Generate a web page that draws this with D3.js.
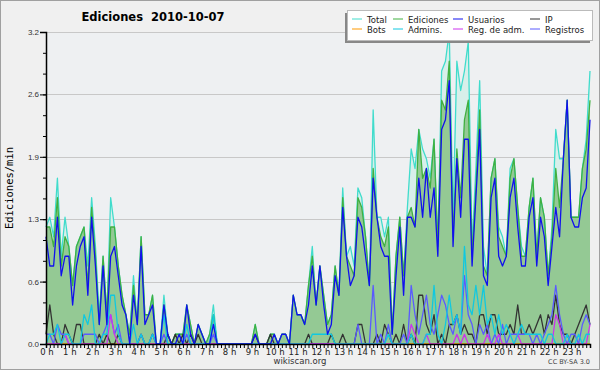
<!DOCTYPE html>
<html>
<head>
<meta charset="utf-8">
<script src="https://cdn.jsdelivr.net/npm/d3@7"></script>
<style>
  body { margin: 0; background: #f0f0f0; }
  svg { display: block; font-family: "DejaVu Sans", sans-serif; }
</style>
</head>
<body>
<div id="chart"></div>
<script>
const width = 600, height = 370;
const margin = { top: 32, right: 10, bottom: 26, left: 46 };

// 10-minute buckets (0..143), edits per minute
const total = [1.2,1.3,1.1,1.7,0.9,1.3,1.0,0.6,1.0,1.1,1.2,0.8,1.5,1.0,0.3,0.9,0.3,1.5,1.2,0.8,0.5,0.3,0.1,0.7,0.2,1.1,0.3,0.3,0.5,0,
  0,0.5,0.1,0,0.1,0.1,0.1,0.4,0.2,0,0.2,0.1,0,0.1,0.4,0,0,0,0,0,0,0,0,0,0,0.2,0,0,0,0.1,
  0.1,0,0.1,0.1,0,0.5,0.3,0.3,0.2,0.6,1.0,0.4,0.8,0.5,0.2,0.3,0.8,0.5,1.6,0.9,1.0,0.8,1.6,1.5,1.1,0.6,2.4,1.3,1.3,1.1,
  1.3,0.1,0.9,1.3,0.7,1.4,2.0,1.8,2.2,2.0,1.9,1.7,2.1,1.0,2.8,2.9,3.2,1.3,2.9,2.6,2.8,3.1,1.0,1.8,2.7,1.0,0.7,1.7,1.9,1.2,
  1.1,0.9,1.8,1.9,1.4,1.0,0.9,1.4,1.7,0.9,1.5,1.3,0.7,1.2,2.2,1.9,1.9,2.5,1.3,1.3,1.3,1.8,2.1,2.8];
const ediciones = [1.2,1.2,1.0,1.5,0.8,1.1,1.0,0.6,1.0,1.1,1.2,0.6,1.4,0.9,0.2,0.9,0.3,1.2,1.2,0.8,0.5,0.3,0.1,0.6,0.2,1.1,0.3,0.3,0.5,0,
  0,0.4,0.1,0,0.1,0.1,0.1,0.4,0.2,0,0.2,0.1,0,0.1,0.3,0,0,0,0,0,0,0,0,0,0,0.2,0,0,0,0.1,
  0.1,0,0.1,0.1,0,0.5,0.3,0.3,0.2,0.6,0.9,0.4,0.8,0.5,0.2,0.3,0.8,0.5,1.5,0.9,0.8,0.7,1.5,1.4,1.1,0.6,1.8,1.3,1.1,1.0,
  1.2,0.1,0.9,1.3,0.7,1.3,1.4,1.2,2.2,1.7,1.8,1.6,2.1,1.0,2.5,2.4,2.9,1.1,2.0,1.5,2.3,2.5,0.9,1.6,2.4,0.8,0.7,1.7,1.9,1.1,
  1.0,0.9,1.7,1.9,1.4,0.9,0.9,1.4,1.7,0.9,1.5,1.3,0.7,1.1,1.8,1.4,1.9,2.5,1.3,1.3,1.3,1.8,2.0,2.5];
const usuarios = [1.1,0.8,0.8,1.3,0.7,0.9,0.9,0.4,0.8,1.0,1.1,0.5,1.3,0.8,0.2,0.8,0.2,0.9,1.0,0.7,0.4,0.3,0,0.5,0.2,1.0,0.2,0.3,0.4,0,
  0,0.4,0.1,0,0,0.1,0,0.4,0.1,0,0.2,0.1,0,0,0.2,0,0,0,0,0,0,0,0,0,0,0.1,0,0,0,0,
  0.1,0,0.1,0.1,0,0.5,0.3,0.3,0.2,0.4,0.8,0.4,0.8,0.4,0.1,0.2,0.7,0.5,1.4,0.9,0.6,0.7,1.3,1.2,0.9,0.6,1.7,1.3,1.0,0.9,
  0.9,0.1,0.7,1.2,0.5,1.3,1.3,1.2,1.7,1.3,1.8,1.3,1.6,0.9,2.2,2.3,2.7,1.0,1.9,1.3,2.1,2.1,0.8,1.5,2.2,0.7,0.6,1.5,1.7,0.9,
  0.8,0.9,1.5,1.7,1.2,0.8,0.8,1.3,1.5,0.8,1.3,1.1,0.6,1.0,1.4,1.1,1.9,2.5,1.3,1.2,1.2,1.5,1.6,2.3];
const ip = [0.1,0.4,0.1,0,0,0.2,0.1,0,0.2,0.2,0,0,0,0,0.1,0,0.1,0,0,0.1,0,0,0,0,0,0.1,0,0,0.1,0,
  0,0,0.1,0,0.1,0,0.1,0,0.1,0,0.1,0,0,0,0,0,0,0,0,0,0,0,0,0,0,0.1,0,0,0,0.1,
  0,0,0,0,0,0,0,0,0,0.1,0,0,0,0,0,0.1,0,0,0.1,0,0,0,0.2,0.2,0,0,0,0.1,0,0.2,
  0.1,0,0.1,0,0.2,0,0.1,0,0.5,0.5,0.2,0.1,0.3,0,0.1,0,0.2,0.2,0.3,0.1,0.2,0.1,0.1,0,0.3,0.3,0.1,0.3,0.3,0.1,
  0.1,0.1,0.2,0.1,0.4,0.1,0.1,0.2,0.1,0.2,0.3,0.1,0.3,0.2,0.5,0.2,0.1,0.1,0,0.1,0.2,0.3,0.4,0.2];
const bots = new Array(144).fill(0);
const admins = [0,0.1,0.1,0.2,0,0.1,0.1,0,0,0,0.3,0.2,0.4,0,0,0.1,0.1,0.5,0.5,0.1,0,0,0,0.2,0,0.1,0,0,0.1,0,
  0,0.3,0,0,0,0,0,0.2,0,0,0,0,0,0,0.3,0,0,0,0,0,0,0,0,0,0,0,0,0,0,0,
  0,0,0,0,0,0,0,0,0,0,0.1,0.1,0.1,0.1,0.1,0.1,0,0,0,0,0,0,0,0,0,0,0,0,0,0,
  0.1,0,0,0,0,0,0.1,0,0,0,0.1,0.1,0.6,0.1,0,0.2,0.5,0.2,0.3,0.1,1.0,0.4,0.3,0.6,0.3,0.6,0.2,0.3,0.1,0.3,
  0.1,0.2,0.1,0,0.1,0.2,0.1,0.1,0.1,0.1,0.1,0,0.1,0.1,0,0,0,0.1,0,0,0.1,0,0.1,0.1];
const registros = [0.1,0.1,0,0.2,0.1,0.1,0,0,0,0,0.1,0.1,0.1,0.1,0,0.1,0.2,0.3,0.1,0.2,0,0,0,0,0,0.1,0,0,0.1,0,
  0,0.1,0,0,0,0,0,0.1,0,0,0,0,0,0,0.1,0,0,0,0,0,0,0,0,0,0,0,0,0,0,0,
  0,0,0,0,0,0,0,0,0,0,0,0,0,0,0,0,0,0,0,0,0,0,0.2,0,0,0,0.6,0,0.1,0,
  0.2,0,0,0,0.1,0,0.6,0.3,0.1,0.3,0.5,0.2,0.1,0.3,0.5,0.4,0.2,0.1,0.3,0.1,0.7,0.3,0.2,0,0.2,0.1,0.2,0,0.1,0,
  0.2,0,0.1,0.1,0.1,0.1,0.1,0.1,0,0.1,0,0.1,0.2,0.3,0.6,0.3,0.1,0,0.1,0.1,0,0.2,0.3,0.2];
const regAdm = [0,0,0,0,0,0.1,0,0,0,0,0,0,0,0,0,0,0,0.3,0.1,0,0,0,0,0,0,0,0,0,0,0,
  0,0,0,0,0,0,0,0,0,0,0,0,0,0,0,0,0,0,0,0,0,0,0,0,0,0,0,0,0,0,
  0,0,0,0,0,0,0,0,0,0,0,0,0,0,0,0,0,0,0,0,0,0,0,0,0,0,0,0,0,0,
  0,0,0,0,0,0,0.2,0.1,0,0,0.1,0,0,0,0,0,0,0,0.1,0,0.1,0,0,0,0,0,0.1,0,0,0.1,
  0,0,0,0,0.1,0,0,0,0,0,0,0,0,0,0.3,0.2,0,0,0,0,0,0,0,0.2];

const yMajor = [0, 0.64, 1.28, 1.92, 2.56, 3.2];
const hours = d3.range(24);

const legendItems = [
  { name: "Total", color: "#40dccc" },
  { name: "Ediciones", color: "#40b040" },
  { name: "Usuarios", color: "#1010ee" },
  { name: "IP", color: "#333333" },
  { name: "Bots", color: "#ff9900" },
  { name: "Admins.", color: "#10c8e0" },
  { name: "Reg. de adm.", color: "#cc33ee" },
  { name: "Registros", color: "#5a5aff" }
];
const color = {};
legendItems.forEach((d) => (color[d.name] = d.color));

const svg = d3
  .select("#chart")
  .append("svg")
  .attr("width", width)
  .attr("height", height);

svg.append("rect")
  .attr("x", 0.5).attr("y", 0.5)
  .attr("width", width - 1).attr("height", height - 1)
  .attr("fill", "#f0f0f0")
  .attr("stroke", "#a0a0a0");

const xScale = d3.scaleLinear().domain([0, 143]).range([margin.left, width - margin.right]);
const yScale = d3.scaleLinear().domain([0, 3.2]).range([height - margin.bottom, margin.top]);

// plot background
svg.append("rect")
  .attr("x", xScale(0)).attr("y", yScale(3.2))
  .attr("width", xScale(143) - xScale(0))
  .attr("height", yScale(0) - yScale(3.2))
  .attr("fill", "#eef0f2");

// grid
svg.selectAll(".grid")
  .data(yMajor.slice(1))
  .enter()
  .append("line")
  .attr("class", "grid")
  .attr("x1", xScale(0)).attr("x2", xScale(143))
  .attr("y1", (d) => Math.round(yScale(d)) + 0.5)
  .attr("y2", (d) => Math.round(yScale(d)) + 0.5)
  .attr("stroke", "#c8c8c8");

const line = (arr) => d3.line().x((d, i) => xScale(i)).y((d) => yScale(d))(arr);
const area = (arr) => d3.area().x((d, i) => xScale(i)).y0(yScale(0)).y1((d) => yScale(d))(arr);

// areas
svg.append("path").attr("d", area(total)).attr("fill", "#d8efea");
svg.append("path").attr("d", area(ediciones)).attr("fill", "#94c994");

const series = [
  { name: "Total", values: total },
  { name: "Ediciones", values: ediciones },
  { name: "Bots", values: bots },
  { name: "IP", values: ip },
  { name: "Registros", values: registros },
  { name: "Reg. de adm.", values: regAdm },
  { name: "Admins.", values: admins },
  { name: "Usuarios", values: usuarios }
];

svg.selectAll(".series")
  .data(series)
  .enter()
  .append("path")
  .attr("class", "series")
  .attr("d", (d) => line(d.values))
  .attr("fill", "none")
  .attr("stroke", (d) => color[d.name])
  .attr("stroke-width", 1.3)
  .attr("stroke-linejoin", "round");

// y axis
const yAxisMinor = svg.append("g")
  .attr("transform", `translate(${margin.left},0)`)
  .call(d3.axisLeft(yScale).tickValues(d3.range(16).map((k) => (3.2 * k) / 15)).tickSize(3).tickFormat(""));
yAxisMinor.select(".domain").remove();

const yAxis = svg.append("g")
  .attr("transform", `translate(${margin.left},0)`)
  .call(d3.axisLeft(yScale).tickValues(yMajor).tickSize(6).tickFormat(d3.format(".1f")).tickPadding(1));
yAxis.select(".domain").attr("stroke-width", 1.5);
yAxis.selectAll("text").attr("font-size", 8).attr("fill", "#333");

// x axis
const xAxis = svg.append("g")
  .attr("transform", `translate(0,${height - margin.bottom})`)
  .call(d3.axisBottom(xScale).tickValues(d3.range(144)).tickSize(4).tickFormat(""));
xAxis.select(".domain").attr("stroke-width", 1.5);

svg.selectAll(".hour")
  .data(hours)
  .enter()
  .append("text")
  .attr("class", "hour")
  .attr("x", (d) => xScale(d * 6) + 1)
  .attr("y", 355)
  .attr("text-anchor", "middle")
  .attr("font-size", 8.5)
  .attr("fill", "#222")
  .text((d) => d + " h");

// titles
svg.append("text")
  .attr("x", 153).attr("y", 21)
  .attr("text-anchor", "middle")
  .attr("font-size", 11.5)
  .attr("font-weight", "bold")
  .style("white-space", "pre")
  .text("Ediciones  2010-10-07");

svg.append("text")
  .attr("transform", `translate(13,${(margin.top + height - margin.bottom) / 2}) rotate(-90)`)
  .attr("text-anchor", "middle")
  .attr("font-family", "DejaVu Sans Mono")
  .attr("font-size", 10.5)
  .text("Ediciones/min");

svg.append("text")
  .attr("x", 300).attr("y", 364)
  .attr("text-anchor", "middle")
  .attr("font-size", 8.5)
  .attr("fill", "#333")
  .text("wikiscan.org");

svg.append("text")
  .attr("x", 590).attr("y", 364)
  .attr("text-anchor", "end")
  .attr("font-size", 6.5)
  .attr("fill", "#444")
  .text("CC BY-SA 3.0");

// legend
const legend = svg.append("g");
legend.append("rect")
  .attr("x", 345).attr("y", 13).attr("width", 245).attr("height", 30)
  .attr("fill", "#888");
legend.append("rect")
  .attr("x", 347.5).attr("y", 10.5).attr("width", 245).attr("height", 30)
  .attr("fill", "#fff").attr("stroke", "#bbb");

const colX = [352, 393, 453, 530];
const items = legend.selectAll(".item")
  .data(legendItems)
  .enter()
  .append("g")
  .attr("class", "item")
  .attr("transform", (d, i) => `translate(${colX[i % 4]},${i < 4 ? 19 : 29})`);
items.append("line")
  .attr("x1", 0).attr("x2", 10)
  .attr("stroke", (d) => d.color)
  .attr("stroke-width", 1);
items.append("text")
  .attr("x", 15).attr("y", 3.5)
  .attr("font-size", 8.5)
  .attr("fill", "#222")
  .text((d) => d.name);
</script>
</body>
</html>
